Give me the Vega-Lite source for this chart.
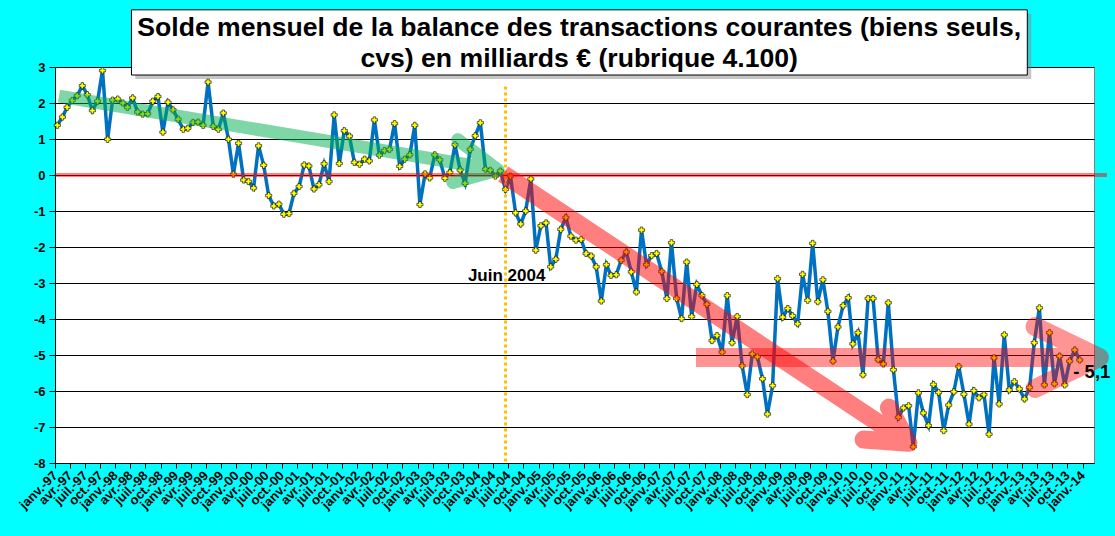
{
  "$schema": "https://vega.github.io/schema/vega-lite/v6.json",
  "width": 1039,
  "height": 396,
  "autosize": "none",
  "padding": {"left": 55, "top": 67, "right": 21, "bottom": 73},
  "background": "#00FFFF",
  "title": {
    "text": ["Solde mensuel de la balance des transactions courantes (biens seuls,", "cvs) en milliards € (rubrique 4.100)"],
    "font": "Liberation Sans",
    "fontSize": 26.6,
    "fontWeight": "bold",
    "color": "black",
    "lineHeight": 31,
    "anchor": "middle",
    "frame": "group",
    "offset": -63,
    "dx": 4.7,
    "limit": 0
  },
  "config": {
    "view": {"fill": "white", "stroke": "#808080", "strokeWidth": 1},
    "axis": {
      "labelFont": "Liberation Sans",
      "labelFontWeight": "bold",
      "labelFontSize": 13,
      "labelColor": "black",
      "domainColor": "black",
      "tickColor": "black",
      "title": null
    },
    "axisY": {
      "tickCount": 12,
      "grid": true,
      "gridColor": "black",
      "gridOpacity": 1,
      "gridWidth": 1,
      "tickSize": 6,
      "labelPadding": 4,
      "labelOverlap": false
    }
  },
  "datasets": {
    "solde": [
      {"mois": "1997-01-15", "solde": 1.38}, {"mois": "1997-02-15", "solde": 1.61}, {"mois": "1997-03-15", "solde": 1.88},
      {"mois": "1997-04-15", "solde": 2.07}, {"mois": "1997-05-15", "solde": 2.20}, {"mois": "1997-06-15", "solde": 2.48},
      {"mois": "1997-07-15", "solde": 2.23}, {"mois": "1997-08-15", "solde": 1.79}, {"mois": "1997-09-15", "solde": 2.05},
      {"mois": "1997-10-15", "solde": 2.90}, {"mois": "1997-11-15", "solde": 0.99}, {"mois": "1997-12-15", "solde": 2.08},
      {"mois": "1998-01-15", "solde": 2.11}, {"mois": "1998-02-15", "solde": 2.00}, {"mois": "1998-03-15", "solde": 1.88},
      {"mois": "1998-04-15", "solde": 2.14}, {"mois": "1998-05-15", "solde": 1.75}, {"mois": "1998-06-15", "solde": 1.69},
      {"mois": "1998-07-15", "solde": 1.70}, {"mois": "1998-08-15", "solde": 2.05}, {"mois": "1998-09-15", "solde": 2.18},
      {"mois": "1998-10-15", "solde": 1.19}, {"mois": "1998-11-15", "solde": 2.02}, {"mois": "1998-12-15", "solde": 1.81},
      {"mois": "1999-01-15", "solde": 1.55}, {"mois": "1999-02-15", "solde": 1.27}, {"mois": "1999-03-15", "solde": 1.30},
      {"mois": "1999-04-15", "solde": 1.46}, {"mois": "1999-05-15", "solde": 1.47}, {"mois": "1999-06-15", "solde": 1.38},
      {"mois": "1999-07-15", "solde": 2.58}, {"mois": "1999-08-15", "solde": 1.35}, {"mois": "1999-09-15", "solde": 1.27},
      {"mois": "1999-10-15", "solde": 1.72}, {"mois": "1999-11-15", "solde": 0.99}, {"mois": "1999-12-15", "solde": 0.02},
      {"mois": "2000-01-15", "solde": 0.88}, {"mois": "2000-02-15", "solde": -0.14}, {"mois": "2000-03-15", "solde": -0.18},
      {"mois": "2000-04-15", "solde": -0.36}, {"mois": "2000-05-15", "solde": 0.81}, {"mois": "2000-06-15", "solde": 0.27},
      {"mois": "2000-07-15", "solde": -0.57}, {"mois": "2000-08-15", "solde": -0.86}, {"mois": "2000-09-15", "solde": -0.81},
      {"mois": "2000-10-15", "solde": -1.09}, {"mois": "2000-11-15", "solde": -1.07}, {"mois": "2000-12-15", "solde": -0.51},
      {"mois": "2001-01-15", "solde": -0.32}, {"mois": "2001-02-15", "solde": 0.28}, {"mois": "2001-03-15", "solde": 0.25},
      {"mois": "2001-04-15", "solde": -0.39}, {"mois": "2001-05-15", "solde": -0.27}, {"mois": "2001-06-15", "solde": 0.31},
      {"mois": "2001-07-15", "solde": -0.18}, {"mois": "2001-08-15", "solde": 1.67}, {"mois": "2001-09-15", "solde": 0.32},
      {"mois": "2001-10-15", "solde": 1.23}, {"mois": "2001-11-15", "solde": 1.08}, {"mois": "2001-12-15", "solde": 0.35},
      {"mois": "2002-01-15", "solde": 0.30}, {"mois": "2002-02-15", "solde": 0.44}, {"mois": "2002-03-15", "solde": 0.39},
      {"mois": "2002-04-15", "solde": 1.53}, {"mois": "2002-05-15", "solde": 0.55}, {"mois": "2002-06-15", "solde": 0.68},
      {"mois": "2002-07-15", "solde": 0.71}, {"mois": "2002-08-15", "solde": 1.43}, {"mois": "2002-09-15", "solde": 0.24},
      {"mois": "2002-10-15", "solde": 0.44}, {"mois": "2002-11-15", "solde": 0.56}, {"mois": "2002-12-15", "solde": 1.38},
      {"mois": "2003-01-15", "solde": -0.82}, {"mois": "2003-02-15", "solde": 0.03}, {"mois": "2003-03-15", "solde": -0.08},
      {"mois": "2003-04-15", "solde": 0.56}, {"mois": "2003-05-15", "solde": 0.42}, {"mois": "2003-06-15", "solde": -0.09},
      {"mois": "2003-07-15", "solde": 0.07}, {"mois": "2003-08-15", "solde": 0.84}, {"mois": "2003-09-15", "solde": 0.14},
      {"mois": "2003-10-15", "solde": -0.23}, {"mois": "2003-11-15", "solde": 0.71}, {"mois": "2003-12-15", "solde": 1.09},
      {"mois": "2004-01-15", "solde": 1.45}, {"mois": "2004-02-15", "solde": 0.16}, {"mois": "2004-03-15", "solde": 0.13},
      {"mois": "2004-04-15", "solde": -0.03}, {"mois": "2004-05-15", "solde": 0.11}, {"mois": "2004-06-15", "solde": -0.40},
      {"mois": "2004-07-15", "solde": -0.03}, {"mois": "2004-08-15", "solde": -1.05}, {"mois": "2004-09-15", "solde": -1.36},
      {"mois": "2004-10-15", "solde": -1.00}, {"mois": "2004-11-15", "solde": -0.11}, {"mois": "2004-12-15", "solde": -2.09},
      {"mois": "2005-01-15", "solde": -1.41}, {"mois": "2005-02-15", "solde": -1.33}, {"mois": "2005-03-15", "solde": -2.55},
      {"mois": "2005-04-15", "solde": -2.34}, {"mois": "2005-05-15", "solde": -1.51}, {"mois": "2005-06-15", "solde": -1.18},
      {"mois": "2005-07-15", "solde": -1.70}, {"mois": "2005-08-15", "solde": -1.81}, {"mois": "2005-09-15", "solde": -1.79},
      {"mois": "2005-10-15", "solde": -2.18}, {"mois": "2005-11-15", "solde": -2.25}, {"mois": "2005-12-15", "solde": -2.55},
      {"mois": "2006-01-15", "solde": -3.50}, {"mois": "2006-02-15", "solde": -2.49}, {"mois": "2006-03-15", "solde": -2.79},
      {"mois": "2006-04-15", "solde": -2.77}, {"mois": "2006-05-15", "solde": -2.37}, {"mois": "2006-06-15", "solde": -2.14},
      {"mois": "2006-07-15", "solde": -2.69}, {"mois": "2006-08-15", "solde": -3.25}, {"mois": "2006-09-15", "solde": -1.53},
      {"mois": "2006-10-15", "solde": -2.49}, {"mois": "2006-11-15", "solde": -2.24}, {"mois": "2006-12-15", "solde": -2.18},
      {"mois": "2007-01-15", "solde": -2.68}, {"mois": "2007-02-15", "solde": -3.43}, {"mois": "2007-03-15", "solde": -1.88},
      {"mois": "2007-04-15", "solde": -3.43}, {"mois": "2007-05-15", "solde": -3.99}, {"mois": "2007-06-15", "solde": -2.42},
      {"mois": "2007-07-15", "solde": -3.93}, {"mois": "2007-08-15", "solde": -3.04}, {"mois": "2007-09-15", "solde": -3.35},
      {"mois": "2007-10-15", "solde": -3.59}, {"mois": "2007-11-15", "solde": -4.60}, {"mois": "2007-12-15", "solde": -4.46},
      {"mois": "2008-01-15", "solde": -4.92}, {"mois": "2008-02-15", "solde": -3.35}, {"mois": "2008-03-15", "solde": -4.66},
      {"mois": "2008-04-15", "solde": -3.93}, {"mois": "2008-05-15", "solde": -5.30}, {"mois": "2008-06-15", "solde": -6.10},
      {"mois": "2008-07-15", "solde": -4.97}, {"mois": "2008-08-15", "solde": -5.05}, {"mois": "2008-09-15", "solde": -5.66},
      {"mois": "2008-10-15", "solde": -6.64}, {"mois": "2008-11-15", "solde": -5.85}, {"mois": "2008-12-15", "solde": -2.88},
      {"mois": "2009-01-15", "solde": -3.95}, {"mois": "2009-02-15", "solde": -3.71}, {"mois": "2009-03-15", "solde": -3.91},
      {"mois": "2009-04-15", "solde": -4.13}, {"mois": "2009-05-15", "solde": -2.76}, {"mois": "2009-06-15", "solde": -3.48},
      {"mois": "2009-07-15", "solde": -1.90}, {"mois": "2009-08-15", "solde": -3.52}, {"mois": "2009-09-15", "solde": -2.91},
      {"mois": "2009-10-15", "solde": -3.79}, {"mois": "2009-11-15", "solde": -5.17}, {"mois": "2009-12-15", "solde": -4.22},
      {"mois": "2010-01-15", "solde": -3.63}, {"mois": "2010-02-15", "solde": -3.41}, {"mois": "2010-03-15", "solde": -4.69},
      {"mois": "2010-04-15", "solde": -4.38}, {"mois": "2010-05-15", "solde": -5.55}, {"mois": "2010-06-15", "solde": -3.43},
      {"mois": "2010-07-15", "solde": -3.43}, {"mois": "2010-08-15", "solde": -5.13}, {"mois": "2010-09-15", "solde": -5.25},
      {"mois": "2010-10-15", "solde": -3.55}, {"mois": "2010-11-15", "solde": -5.41}, {"mois": "2010-12-15", "solde": -6.73},
      {"mois": "2011-01-15", "solde": -6.47}, {"mois": "2011-02-15", "solde": -6.41}, {"mois": "2011-03-15", "solde": -7.55},
      {"mois": "2011-04-15", "solde": -6.05}, {"mois": "2011-05-15", "solde": -6.61}, {"mois": "2011-06-15", "solde": -6.96},
      {"mois": "2011-07-15", "solde": -5.82}, {"mois": "2011-08-15", "solde": -6.04}, {"mois": "2011-09-15", "solde": -7.10},
      {"mois": "2011-10-15", "solde": -6.39}, {"mois": "2011-11-15", "solde": -6.02}, {"mois": "2011-12-15", "solde": -5.32},
      {"mois": "2012-01-15", "solde": -6.09}, {"mois": "2012-02-15", "solde": -6.92}, {"mois": "2012-03-15", "solde": -5.99},
      {"mois": "2012-04-15", "solde": -6.19}, {"mois": "2012-05-15", "solde": -6.10}, {"mois": "2012-06-15", "solde": -7.20},
      {"mois": "2012-07-15", "solde": -5.08}, {"mois": "2012-08-15", "solde": -6.36}, {"mois": "2012-09-15", "solde": -4.44},
      {"mois": "2012-10-15", "solde": -5.97}, {"mois": "2012-11-15", "solde": -5.74}, {"mois": "2012-12-15", "solde": -5.94},
      {"mois": "2013-01-15", "solde": -6.22}, {"mois": "2013-02-15", "solde": -5.90}, {"mois": "2013-03-15", "solde": -4.66},
      {"mois": "2013-04-15", "solde": -3.69}, {"mois": "2013-05-15", "solde": -5.83}, {"mois": "2013-06-15", "solde": -4.38},
      {"mois": "2013-07-15", "solde": -5.80}, {"mois": "2013-08-15", "solde": -5.03}, {"mois": "2013-09-15", "solde": -5.83},
      {"mois": "2013-10-15", "solde": -5.17}, {"mois": "2013-11-15", "solde": -4.86}, {"mois": "2013-12-15", "solde": -5.14}
    ],
    "fleches": [
      {"fleche": "vert", "ordre": 0, "mois": "1997-01-25", "solde": 2.19},
      {"fleche": "vert", "ordre": 1, "mois": "2004-05-01", "solde": 0.14},
      {"fleche": "vert", "ordre": 2, "mois": "2003-09-01", "solde": 0.98},
      {"fleche": "vert", "ordre": 3, "mois": "2004-05-01", "solde": 0.14},
      {"fleche": "vert", "ordre": 4, "mois": "2003-08-02", "solde": -0.21},
      {"fleche": "vert", "ordre": 5, "mois": "2003-08-14", "solde": -0.20},
      {"fleche": "rouge", "ordre": 0, "mois": "2004-06-01", "solde": 0.03},
      {"fleche": "rouge", "ordre": 1, "mois": "2011-02-13", "solde": -7.44},
      {"fleche": "rouge", "ordre": 2, "mois": "2010-10-19", "solde": -6.46},
      {"fleche": "rouge", "ordre": 3, "mois": "2011-02-13", "solde": -7.44},
      {"fleche": "rouge", "ordre": 4, "mois": "2010-05-19", "solde": -7.35},
      {"fleche": "rouge", "ordre": 5, "mois": "2010-06-01", "solde": -7.35},
      {"fleche": "rose", "ordre": 0, "mois": "2007-08-10", "solde": -5.07},
      {"fleche": "rose", "ordre": 1, "mois": "2014-04-12", "solde": -5.07},
      {"fleche": "rose", "ordre": 2, "mois": "2013-03-20", "solde": -4.21},
      {"fleche": "rose", "ordre": 3, "mois": "2014-04-12", "solde": -5.07},
      {"fleche": "rose", "ordre": 4, "mois": "2013-03-20", "solde": -5.93},
      {"fleche": "rose", "ordre": 5, "mois": "2013-03-28", "solde": -5.92}
    ]
  },
  "layer": [
    {
      "data": {"name": "solde"},
      "mark": {"type": "line", "color": "#0070C0", "strokeWidth": 3.5},
      "encoding": {
        "x": {
          "field": "mois",
          "type": "temporal",
          "scale": {"domain": [{"year": 1997, "month": 1, "date": 1}, {"year": 2014, "month": 3, "date": 11}], "nice": false},
          "axis": {
            "grid": false,
            "tickCount": {"interval": "month", "step": 3},
            "tickSize": 5,
            "labelAngle": -45,
            "labelAlign": "right",
            "labelBaseline": "middle",
            "labelPadding": 5,
            "labelOverlap": false,
            "labelFlush": false,
            "labelExpr": "['janv.','févr.','mars','avr.','mai','juin','juil.','août','sept.','oct.','nov.','déc.'][month(datum.value)] + '-' + timeFormat(datum.value, '%y')"
          }
        },
        "y": {
          "field": "solde",
          "type": "quantitative",
          "scale": {"domain": [-8, 3], "nice": false, "zero": false},
          "axis": {"values": [-8, -7, -6, -5, -4, -3, -2, -1, 0, 1, 2, 3], "tickCount": 12, "labelExpr": "'' + datum.value"}
        }
      }
    },
    {
      "data": {"name": "solde"},
      "mark": {"type": "point", "shape": "cross", "filled": true, "fill": "#FFFF00", "stroke": "black", "strokeWidth": 0.6, "size": 38, "opacity": 1},
      "encoding": {
        "x": {"field": "mois", "type": "temporal"},
        "y": {"field": "solde", "type": "quantitative"}
      }
    },
    {
      "data": {"values": [{}]},
      "mark": {"type": "rule", "color": "#FF0000", "opacity": 0.5, "strokeWidth": 4},
      "encoding": {
        "x": {"datum": {"year": 1997, "month": 1, "date": 1}, "type": "temporal"},
        "x2": {"datum": {"year": 2014, "month": 5, "date": 28}},
        "y": {"datum": 0, "type": "quantitative"}
      }
    },
    {
      "data": {"values": [{}]},
      "mark": {"type": "rule", "color": "#FFC000", "strokeWidth": 3, "strokeDash": [3, 3]},
      "encoding": {
        "x": {"datum": {"year": 2004, "month": 6, "date": 15}, "type": "temporal"},
        "y": {"datum": 2.46, "type": "quantitative"},
        "y2": {"datum": -8}
      }
    },
    {
      "data": {"name": "fleches"},
      "transform": [{"filter": "datum.fleche === 'vert'"}],
      "mark": {"type": "line", "color": "#00B050", "opacity": 0.5, "strokeWidth": 13, "strokeJoin": "round", "strokeCap": "butt"},
      "encoding": {
        "x": {"field": "mois", "type": "temporal"},
        "y": {"field": "solde", "type": "quantitative"},
        "order": {"field": "ordre"}
      }
    },
    {
      "data": {"name": "fleches"},
      "transform": [{"filter": "datum.fleche === 'rouge'"}],
      "mark": {"type": "line", "color": "#FF0000", "opacity": 0.5, "strokeWidth": 18, "strokeJoin": "round", "strokeCap": "butt"},
      "encoding": {
        "x": {"field": "mois", "type": "temporal"},
        "y": {"field": "solde", "type": "quantitative"},
        "order": {"field": "ordre"}
      }
    },
    {
      "data": {"name": "fleches"},
      "transform": [{"filter": "datum.fleche === 'rose'"}],
      "mark": {"type": "line", "color": "#FF0000", "opacity": 0.42, "strokeWidth": 19, "strokeJoin": "round", "strokeCap": "butt"},
      "encoding": {
        "x": {"field": "mois", "type": "temporal"},
        "y": {"field": "solde", "type": "quantitative"},
        "order": {"field": "ordre"}
      }
    },
    {
      "data": {"values": [{}]},
      "mark": {"type": "text", "text": "Juin 2004", "font": "Liberation Sans", "fontWeight": "bold", "fontSize": 17, "align": "left", "baseline": "alphabetic", "color": "black"},
      "encoding": {
        "x": {"datum": {"year": 2003, "month": 11, "date": 1}, "type": "temporal"},
        "y": {"datum": -2.94, "type": "quantitative"}
      }
    },
    {
      "data": {"values": [{}]},
      "mark": {"type": "text", "text": "- 5,1", "font": "Liberation Sans", "fontWeight": "bold", "fontSize": 18.5, "align": "left", "baseline": "alphabetic", "color": "black"},
      "encoding": {
        "x": {"datum": {"year": 2013, "month": 11, "date": 6}, "type": "temporal"},
        "y": {"datum": -5.65, "type": "quantitative"}
      }
    },
    {
      "data": {"values": [{}]},
      "mark": {"type": "rect", "color": "#808080", "opacity": 0.45},
      "encoding": {
        "x": {"datum": {"year": 1998, "month": 5, "date": 1}, "type": "temporal"},
        "x2": {"datum": {"year": 2013, "month": 2, "date": 25}},
        "y": {"datum": 4.48, "type": "quantitative"},
        "y2": {"datum": 2.67}
      }
    },
    {
      "data": {"values": [{}]},
      "mark": {"type": "rect", "fill": "white", "stroke": "black", "strokeWidth": 1},
      "encoding": {
        "x": {"datum": {"year": 1998, "month": 4, "date": 8}, "type": "temporal"},
        "x2": {"datum": {"year": 2013, "month": 2, "date": 1}},
        "y": {"datum": 4.588, "type": "quantitative"},
        "y2": {"datum": 2.777}
      }
    }
  ]
}
